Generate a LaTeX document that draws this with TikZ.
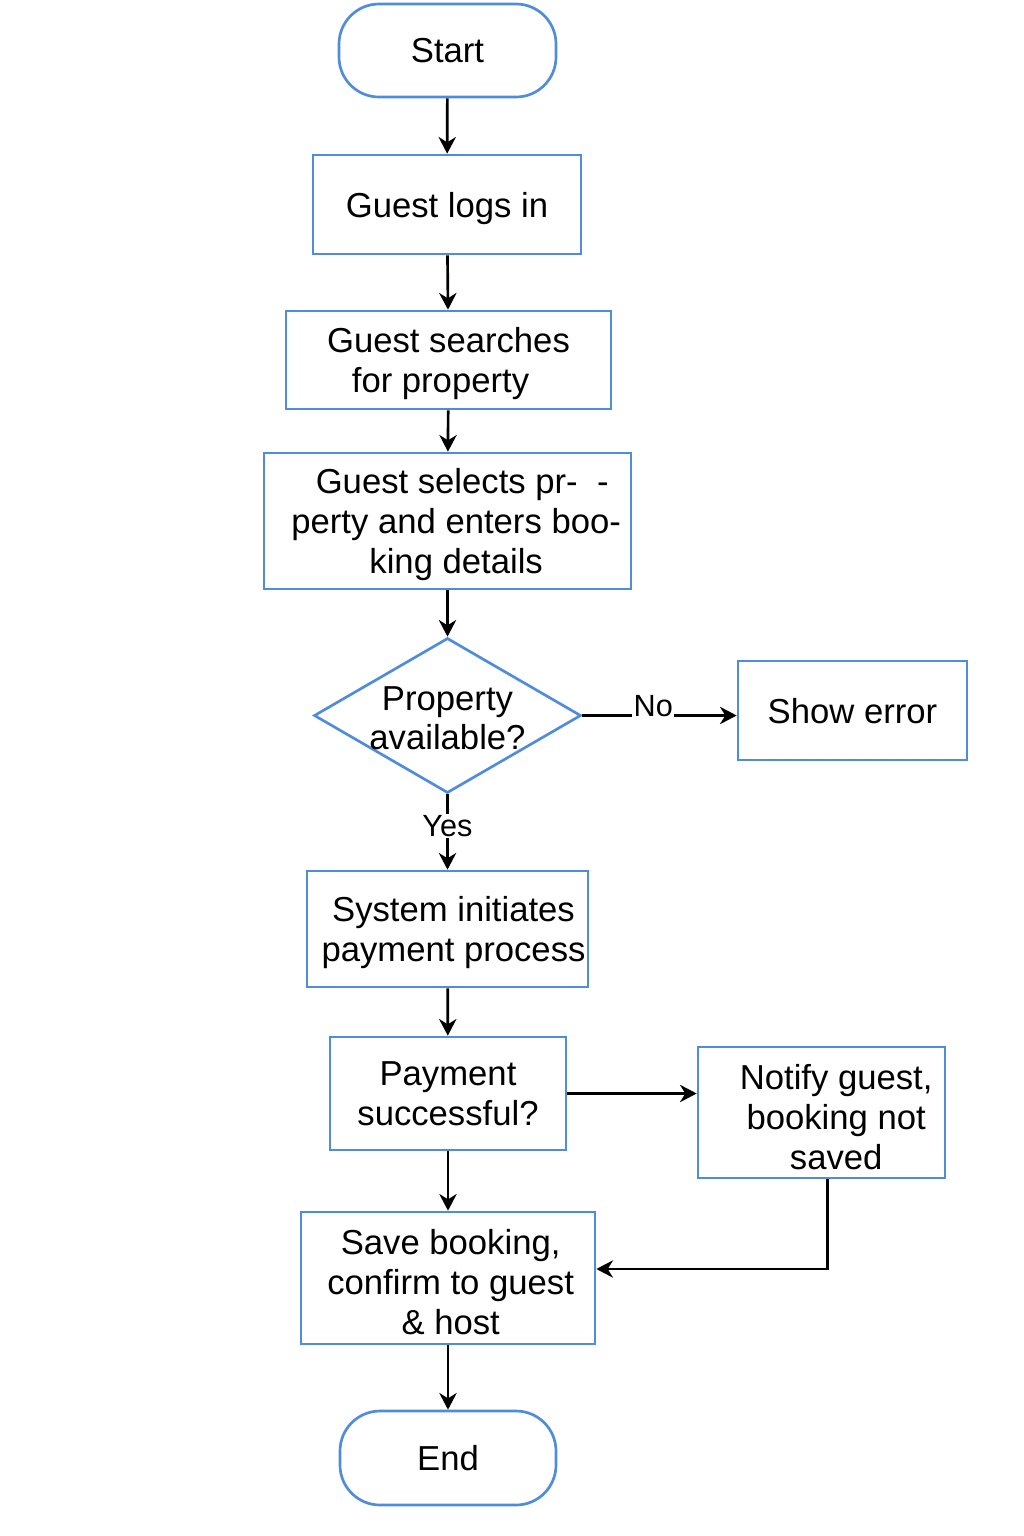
\documentclass[tikz,border=0pt]{standalone}
\usepackage{fontspec}
\setmainfont{Liberation Sans}
\usetikzlibrary{shapes.geometric,arrows.meta,calc}
\definecolor{bblue}{RGB}{80,140,220}
\begin{document}
\begin{tikzpicture}[x=0.75pt,y=-0.75pt,
  box/.style={draw=bblue,line width=2pt,fill=white,align=center,inner sep=2pt,text depth=0pt,font=\fontsize{26}{30}\selectfont},
  term/.style={box,rounded corners=30pt},
  txt/.style={align=center,inner sep=0pt,font=\fontsize{26}{29}\selectfont},
  arr/.style={draw=black,line width=2pt,-{Stealth[length=12.5pt,width=13pt,inset=4pt]}},
  lbl/.style={font=\fontsize{23}{26}\selectfont,fill=white,inner sep=1pt}]
\useasboundingbox[fill=white] (0,0) rectangle (1024,1536);

\node[term,minimum width=162.75pt,minimum height=69.75pt] (start) at (447.5,50.5) {Start};
\node[box,minimum width=201pt,minimum height=74.25pt] (login) at (447,204.5) {Guest logs in};
\node[box,minimum width=243.75pt,minimum height=73.5pt] (search) at (448.5,360) {Guest searches\\for property\hspace*{12pt}};
\node[box,minimum width=275.25pt,minimum height=102pt] (select) at (447.5,521) {\hspace*{22pt}Guest selects pr-\ \ -\\\hspace*{13pt}perty and enters boo-\\\hspace*{13pt}king details};
\node[draw=bblue,line width=2pt,fill=white,diamond,minimum width=200.25pt,minimum height=116.25pt,inner sep=0pt] (dia) at (447.5,715.5) {};
\node[txt] (dialbl) at (447.5,718) {Property\\available?};
\node[box,minimum width=171.75pt,minimum height=74.25pt] (err) at (852.5,710.5) {Show error};
\node[box,minimum width=210.75pt,minimum height=87pt] (sys) at (447.5,929) {\hspace*{9pt}System initiates\\\hspace*{9pt}payment process};
\node[box,minimum width=177pt,minimum height=84.75pt] (pay) at (448,1093.5) {Payment\\successful?};
\node[box,minimum width=185.25pt,minimum height=98.25pt] (ntf) at (821.5,1112.5) {\rule{0pt}{25pt}\hspace*{22pt}Notify guest,\\\hspace*{22pt}booking not\\\hspace*{22pt}saved};
\node[box,minimum width=220.5pt,minimum height=99pt] (save) at (448,1278) {\rule{0pt}{25pt}\hspace*{4pt}Save booking,\\\hspace*{4pt}confirm to guest\\\hspace*{4pt}\& host};
\node[term,minimum width=162pt,minimum height=70.5pt] (end) at (448,1458) {End};

\draw[arr] (start) -- (login);
\draw[arr] (login) -- (search);
\draw[arr] (search) -- (select);
\draw[arr] (select) -- (dia);
\draw[arr] (dia.east) -- node[lbl,pos=0.46,yshift=7pt]{No} (dia.east -| err.west);
\draw[arr] (dia.south) -- node[lbl,pos=0.42]{Yes} (sys.north);
\draw[arr] (sys) -- (pay);
\draw[arr] (pay.east) -- (pay.east -| ntf.west);
\draw[arr] (pay) -- (save);
\draw[arr] ([xshift=4.5pt]ntf.south) |- ([yshift=6.75pt]save.east);
\draw[arr] (save) -- (end);
\end{tikzpicture}
\end{document}
